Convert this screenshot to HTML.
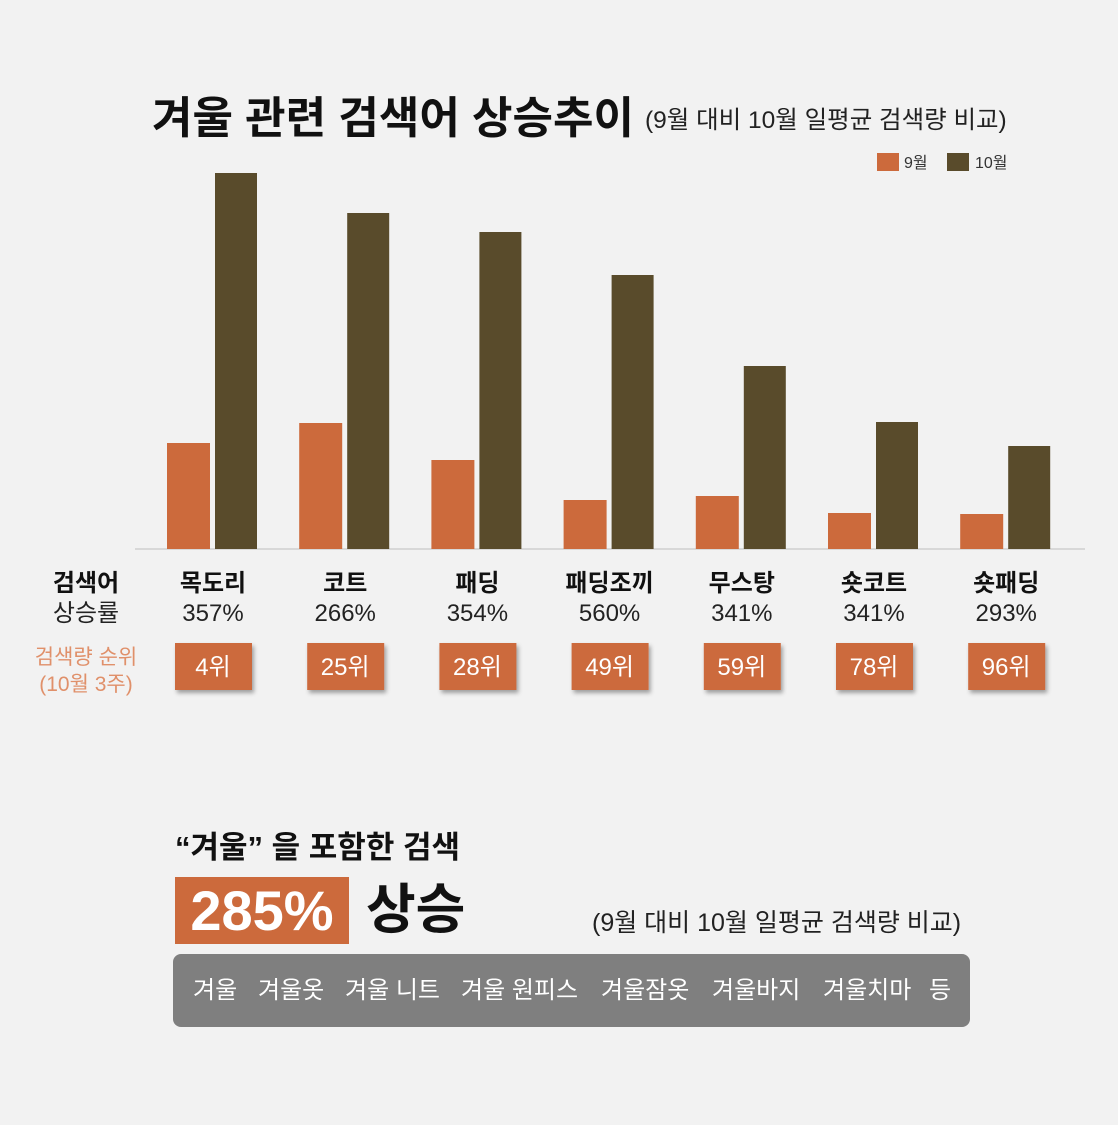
<!DOCTYPE html>
<html><head><meta charset="utf-8"><style>
body{margin:0;background:#f2f2f2;font-family:"Liberation Sans","Noto Sans CJK KR",sans-serif;}
#wrap{position:relative;width:1118px;height:1125px;overflow:hidden;background:#f2f2f2}
.abs{position:absolute;white-space:nowrap}
.kw{position:absolute;top:0;line-height:73px;font-size:24px;color:#fff}
</style></head><body><div id="wrap">
<div class="abs" style="left:152px;top:82px;font-size:44px;font-weight:bold;color:#111">겨울 관련 검색어 상승추이</div>
<div class="abs" style="left:645px;top:101px;font-size:24.5px;color:#222">(9월 대비 10월 일평균 검색량 비교)</div>
<svg id="chart" width="1118" height="720" style="position:absolute;left:0;top:0" font-family="Liberation Sans, Noto Sans CJK KR, sans-serif"></svg>
<div class="abs" style="left:175px;top:822px;font-size:31px;font-weight:bold;color:#111">“겨울” 을 포함한 검색</div>
<div class="abs" style="left:175px;top:877px;width:174px;height:67px;background:#cc6a3c;color:#fff;font-size:56px;font-weight:bold;line-height:67px;text-align:center">285%</div>
<div class="abs" style="left:366px;top:877px;font-size:54px;font-weight:bold;color:#111;line-height:67px">상승</div>
<div class="abs" style="left:592px;top:903px;font-size:25px;color:#222">(9월 대비 10월 일평균 검색량 비교)</div>
<div class="abs" style="left:173px;top:954px;width:797px;height:73px;background:#7f7f7f;border-radius:8px">
<span class="kw" style="left:20px">겨울</span>
<span class="kw" style="left:85px">겨울옷</span>
<span class="kw" style="left:172px">겨울 니트</span>
<span class="kw" style="left:288px">겨울 원피스</span>
<span class="kw" style="left:428px">겨울잠옷</span>
<span class="kw" style="left:539px">겨울바지</span>
<span class="kw" style="left:650px">겨울치마</span>
<span class="kw" style="left:756px">등</span>
</div>
</div>
<script>
const categories=["목도리","코트","패딩","패딩조끼","무스탕","숏코트","숏패딩"];
const sepValues=[26.5,31.5,22.25,12.25,13.25,9,8.75];
const octValues=[94,84,79.25,68.5,45.75,31.75,25.75];
const rates=["357%","266%","354%","560%","341%","341%","293%"];
const ranks=["4위","25위","28위","49위","59위","78위","96위"];
const svg=document.getElementById('chart');const NS="http://www.w3.org/2000/svg";
const base=549, scale=4;
const y=v=>base-v*scale;
const gx=i=>167+i*132.2;
function mk(t,a){const e=document.createElementNS(NS,t);for(const k in a)e.setAttribute(k,a[k]);svg.appendChild(e);return e;}
const defs=mk('defs',{});defs.innerHTML='<filter id="sh" x="-20%" y="-20%" width="150%" height="150%"><feDropShadow dx="2" dy="3" stdDeviation="2" flood-opacity="0.35"/></filter>';
const ax=mk('line',{x1:135,x2:1085,y1:base,y2:base,stroke:'#cfcfcf','stroke-width':1.5});

const l1=mk('rect',{x:877,y:153,width:22,height:18,fill:'#cc6a3c'});
const lt1=mk('text',{x:904,y:168,'font-size':16,fill:'#333'});lt1.textContent='9월';
const l2=mk('rect',{x:947,y:153,width:22,height:18,fill:'#594b2b'});
const lt2=mk('text',{x:975,y:168,'font-size':16,fill:'#333'});lt2.textContent='10월';
const h1=mk('text',{x:86,y:591,'font-size':24,'font-weight':'bold','text-anchor':'middle',fill:'#111'});h1.textContent='검색어';
const h2=mk('text',{x:86,y:621,'font-size':24,'text-anchor':'middle',fill:'#222'});h2.textContent='상승률';
const h3=mk('text',{x:86,y:664,'font-size':21,'text-anchor':'middle',fill:'#e0906a'});h3.textContent='검색량 순위';
const h4=mk('text',{x:86,y:691,'font-size':21,'text-anchor':'middle',fill:'#e0906a'});h4.textContent='(10월 3주)';
categories.forEach((c,i)=>{
 const x=gx(i), cx=x+45;
 const b1=mk('rect',{x:x,y:y(sepValues[i]),width:43,height:sepValues[i]*scale,fill:'#cc6a3c'});
 
 const b2=mk('rect',{x:x+48,y:y(octValues[i]),width:42,height:octValues[i]*scale,fill:'#594b2b'});
 
 const t=mk('text',{x:cx+1,y:591,'font-size':24,'font-weight':'bold','text-anchor':'middle',fill:'#111'});t.textContent=c;
 
 const r=mk('text',{x:cx+1,y:621,'font-size':24,'text-anchor':'middle',fill:'#222'});r.textContent=rates[i];
 
 const bx=mk('rect',{x:cx-37,y:643,width:77,height:47,fill:'#cc6a3c',filter:'url(#sh)'});
 
 const rt=mk('text',{x:cx+1,y:675,'font-size':24,'text-anchor':'middle',fill:'#fff'});rt.textContent=ranks[i];
 
});
</script></body></html>
